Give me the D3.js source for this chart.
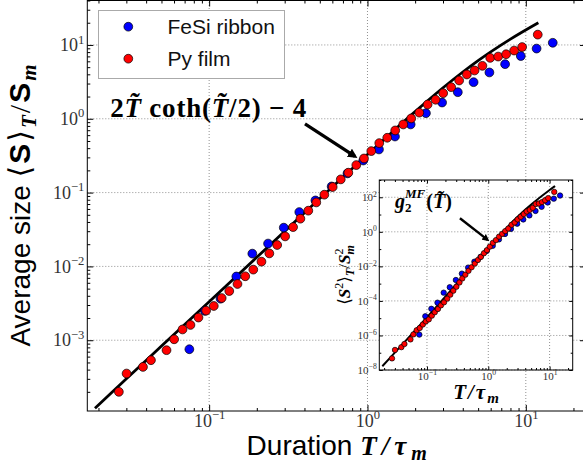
<!DOCTYPE html>
<html>
<head>
<meta charset="utf-8">
<script src="https://cdn.jsdelivr.net/npm/d3@7"></script>
<style>
  body { margin: 0; background: #fff; }
</style>
</head>
<body>
<div id="chart"></div>
<script>
// ---- data ----
const seriesNames = ['FeSi ribbon', 'Py film']
const seriesColors = ['#0000ff', '#ff0000']

// FeSi ribbon (blue)
const fesiT = [0.0750, 0.094, 0.118, 0.1485, 0.1874, 0.2356, 0.296, 0.371, 0.469, 0.594, 0.748, 0.941,
  1.182, 1.492, 1.874, 2.34, 2.96, 3.72, 4.68, 5.89, 7.40, 9.30, 11.7, 14.8]
const fesiS = [7.55e-4, 2.5e-3, 3.65e-3, 7.30e-3, 0.0149, 0.0204, 0.0335, 0.0545, 0.0783, 0.121, 0.182, 0.272,
  0.384, 0.575, 0.838, 1.19, 1.66, 2.29, 3.13, 4.24, 5.49, 7.08, 8.93, 10.7]
const fesiS2 = [1.12e-6, 1.29e-5, 3.5e-5, 7.9e-5, 3.0e-4, 6.2e-4, 1.62e-3, 3.8e-3, 8.5e-3, 0.0186, 0.0355, 0.0776,
  0.155, 0.363, 0.75, 1.48, 2.95, 5.2, 8.9, 16.2, 28, 50, 83, 126]

// Py film (red)
const pyT = [0.0269, 0.0301, 0.0382, 0.0429, 0.0538, 0.0601, 0.0679, 0.0762, 0.0856, 0.0957,
  0.107, 0.120, 0.134, 0.151, 0.169, 0.190, 0.214, 0.240, 0.269, 0.302,
  0.339, 0.377, 0.423, 0.475, 0.534, 0.603, 0.678, 0.757, 0.850, 0.951,
  1.057, 1.187, 1.333, 1.497, 1.682, 1.889, 2.123, 2.398, 2.693, 3.007,
  3.378, 3.794, 4.244, 4.748, 5.32, 5.96, 6.69, 7.51, 8.44, 9.48, 11.9]
const pyS = [2.0e-4, 3.54e-4, 4.35e-4, 5.36e-4, 7.33e-4, 1.03e-3, 1.40e-3, 1.61e-3, 2.03e-3, 2.52e-3,
  2.91e-3, 3.73e-3, 4.64e-3, 5.78e-3, 7.35e-3, 9.05e-3, 0.0116, 0.0150, 0.0195, 0.0255,
  0.0341, 0.0443, 0.0569, 0.0736, 0.0937, 0.119, 0.151, 0.186, 0.236, 0.290,
  0.365, 0.468, 0.553, 0.695, 0.838, 1.01, 1.21, 1.56, 1.81, 2.22,
  2.68, 3.30, 3.98, 4.51, 5.21, 6.68, 6.96, 7.48, 8.40, 9.37, 13.8]
const pyS2 = [4.7e-8, 1.45e-7, 2.1e-7, 3.2e-7, 5.9e-7, 1.15e-6, 2.0e-6, 2.7e-6, 4.3e-6, 6.5e-6,
  8.5e-6, 1.4e-5, 2.2e-5, 3.4e-5, 5.5e-5, 8.3e-5, 1.35e-4, 2.3e-4, 3.9e-4, 6.6e-4,
  1.17e-3, 2.0e-3, 3.3e-3, 5.5e-3, 8.9e-3, 0.0145, 0.0234, 0.0355, 0.0575, 0.087,
  0.138, 0.229, 0.331, 0.525, 0.76, 1.10, 1.55, 2.57, 3.47, 5.25,
  7.4, 10.7, 15.1, 18.6, 24.5, 40.7, 43.6, 52.5, 67.6, 89.1, 204]

// mean-field curves, sampled along the drawn lines
const theoryT = [0.019, 0.03, 0.05, 0.1, 0.2, 0.3, 0.5, 1, 1.5, 2, 3, 4, 5, 8, 12]
const theoryS = [1.2e-4, 3.0e-4, 8.33e-4, 3.33e-3, 0.0133, 0.030, 0.083, 0.328, 0.723, 1.25, 2.63, 4.30, 6.14, 12.0, 20.0]
const theory2T = [0.0187, 0.1, 0.316, 1, 1.585, 3.16, 10, 12.25]
const theory2S = [1.66e-8, 1.12e-5, 1.12e-3, 0.112, 0.708, 8.9, 263, 447]

// tick labels
const mainXTicks = [0.1, 1, 10]
const mainYTicks = [1e-3, 1e-2, 1e-1, 1, 10]
const insetXTicks = [0.1, 1, 10]
const insetYTicks = [1e-8, 1e-6, 1e-4, 1e-2, 1, 1e2]

// annotation anchors (data units)
const mainNote = { text: [0.0237, 1.05], tail: [0.403, 0.855], head: [0.834, 0.309] }
const insetNote = { text: [0.0302, 23], tail: [0.345, 6.1], head: [0.977, 0.34] }

// ---- drawing ----
const W = 583, H = 465
const serif = '"Liberation Serif", "DejaVu Serif", serif'
const sans = '"Liberation Sans", Arial, sans-serif'

const svg = d3.select('#chart').append('svg').attr('width', W).attr('height', H)
const defs = svg.append('defs')
defs.append('marker').attr('id', 'head')
  .attr('viewBox', '0 0 10 10').attr('refX', 7).attr('refY', 5)
  .attr('markerWidth', 3).attr('markerHeight', 3).attr('orient', 'auto')
  .append('path').attr('d', 'M0,0L10,5L0,10z').attr('fill', '#000')

function expLabel (sel, size) {
  sel.each(function (d) {
    const e = Math.round(Math.log10(d))
    const t = d3.select(this).text(null)
      .attr('font-family', serif).attr('font-size', size).attr('fill', '#333')
    t.append('tspan').text('10')
    t.append('tspan').attr('font-size', size * 0.7).attr('dy', -size * 0.42)
      .text(e < 0 ? '\u2212' + (-e) : String(e))
  })
}

function panel (cfg) {
  const { x, y, xTicks, yTicks, major, minor, fontSize, padX, padY, r, curveT, curveS, lw } = cfg
  const [x0, x1] = x.range()
  const [y0, y1] = y.range()
  const g = svg.append('g')

  if (cfg.fill) {
    g.append('rect').attr('x', x0).attr('y', y1).attr('width', x1 - x0).attr('height', y0 - y1).attr('fill', '#fff')
  }

  // grid
  const grid = g.append('g').attr('stroke', '#000').attr('stroke-opacity', 0.55)
    .attr('stroke-width', 0.8).attr('stroke-dasharray', '1,2')
  grid.selectAll('.gx').data(xTicks).join('line').attr('class', 'gx')
    .attr('x1', d => x(d)).attr('x2', d => x(d)).attr('y1', y0).attr('y2', y1)
  grid.selectAll('.gy').data(yTicks).join('line').attr('class', 'gy')
    .attr('y1', d => y(d)).attr('y2', d => y(d)).attr('x1', x0).attr('x2', x1)

  // theory curve
  g.append('path').datum(d3.zip(curveT, curveS))
    .attr('fill', 'none').attr('stroke', '#000').attr('stroke-width', lw)
    .attr('d', d3.line().x(d => x(d[0])).y(d => y(d[1])).curve(d3.curveMonotoneX))

  // scatter: blue first, red on top
  const sets = [d3.zip(fesiT, cfg.fesi), d3.zip(pyT, cfg.py)]
  sets.forEach((pts, i) => {
    g.append('g').selectAll('circle').data(pts).join('circle')
      .attr('cx', d => x(d[0])).attr('cy', d => y(d[1])).attr('r', r)
      .attr('fill', seriesColors[i]).attr('stroke', '#000').attr('stroke-width', 0.7)
  })

  // frame
  g.append('rect').attr('x', x0).attr('y', y1).attr('width', x1 - x0).attr('height', y0 - y1)
    .attr('fill', 'none').attr('stroke', '#000').attr('stroke-width', 1)

  const xMinor = x.ticks().filter(t => !xTicks.some(m => Math.abs(m / t - 1) < 1e-6))
  const yMinor = y.ticks().filter(t => !yTicks.some(m => Math.abs(m / t - 1) < 1e-6))

  const axes = [
    [d3.axisBottom, x, xTicks, xMinor, `translate(0,${y0})`, true],
    [d3.axisTop, x, xTicks, xMinor, `translate(0,${y1})`, false],
    [d3.axisLeft, y, yTicks, yMinor, `translate(${x0},0)`, true],
    [d3.axisRight, y, yTicks, yMinor, `translate(${x1},0)`, false]
  ]
  axes.forEach(([axis, s, maj, mnr, tr, labels], k) => {
    const pad = k < 2 ? padX : padY
    const a = g.append('g').attr('transform', tr)
      .call(axis(s).tickValues(maj).tickSizeInner(-major).tickSizeOuter(0).tickPadding(pad).tickFormat(''))
    a.select('.domain').remove()
    if (labels) a.selectAll('.tick text').call(expLabel, fontSize)
    else a.selectAll('.tick text').remove()
    const m = g.append('g').attr('transform', tr)
      .call(axis(s).tickValues(mnr).tickSizeInner(-minor).tickSizeOuter(0).tickFormat(''))
    m.select('.domain').remove()
    m.selectAll('.tick text').remove()
  })
  return g
}

function note (g, x, y, cfg, size, lw, build) {
  g.append('line')
    .attr('x1', x(cfg.tail[0])).attr('y1', y(cfg.tail[1]))
    .attr('x2', x(cfg.head[0])).attr('y2', y(cfg.head[1]))
    .attr('stroke', '#000').attr('stroke-width', lw).attr('marker-end', 'url(#head)')
  const t = g.append('text').attr('x', x(cfg.text[0])).attr('y', y(cfg.text[1]))
    .attr('font-family', serif).attr('font-size', size).attr('font-weight', 'bold')
  build(t, size)
}

function addSpans (t, parts) {
  parts.forEach(p => {
    const s = t.append('tspan').text(p.t)
    if (p.f) s.attr('font-family', p.f)
    if (p.w) s.attr('font-weight', p.w)
    if (p.i) s.attr('font-style', 'italic')
    if (p.fs) s.attr('font-size', p.fs)
    if (p.dy) s.attr('dy', p.dy)
    if (p.dx) s.attr('dx', p.dx)
    if (p.ls) s.attr('letter-spacing', p.ls)
  })
}

// main axes
const x = d3.scaleLog().domain([0.017, 24]).range([87.3, 586])
const y = d3.scaleLog().domain([1.1e-4, 40]).range([411, 0.5])
const main = panel({
  x, y, xTicks: mainXTicks, yTicks: mainYTicks, major: 6, minor: 3, fontSize: 18,
  padX: 3, padY: 3, r: 4.4, curveT: theoryT, curveS: theoryS, lw: 2.8, fesi: fesiS, py: pyS
})

note(main, x, y, mainNote, 27, 3.2, (t, s) => {
  t.attr('letter-spacing', 0.8)
  addSpans(t, [
    { t: '2' },
    { t: 'T\u0303', i: true },
    { t: ' coth(' },
    { t: 'T\u0303', i: true },
    { t: '/2) \u2212 4' }
  ])
})

// legend
const leg = svg.append('g')
leg.append('rect').attr('x', 98.5).attr('y', 10.5).attr('width', 186).attr('height', 68)
  .attr('fill', '#fff').attr('stroke', '#aaa').attr('stroke-width', 1)
seriesNames.forEach((name, i) => {
  const cy = 26.7 + i * 32
  leg.append('circle').attr('cx', 128.3).attr('cy', cy).attr('r', 4.4)
    .attr('fill', seriesColors[i]).attr('stroke', '#000').attr('stroke-width', 0.7)
  leg.append('text').attr('x', 167.5).attr('y', cy).attr('dy', '0.36em')
    .attr('font-family', sans).attr('font-size', 21).attr('fill', '#111').text(name)
})

// main axis labels
const xl = svg.append('text').attr('x', 336.7).attr('y', 455).attr('text-anchor', 'middle')
  .attr('font-size', 28).attr('fill', '#000')
addSpans(xl, [
  { t: 'Duration ', f: sans },
  { t: 'T', f: serif, w: 'bold', i: true, fs: 27, ls: 5 },
  { t: '/', f: serif, w: 'bold', i: true, fs: 27, ls: 5 },
  { t: '\u03c4', f: serif, w: 'bold', i: true, fs: 27, ls: 5 },
  { t: 'm', f: serif, w: 'bold', i: true, fs: 20, dy: 5 }
])

const yl = svg.append('text').attr('transform', 'translate(30,205.5) rotate(-90)')
  .attr('text-anchor', 'middle').attr('font-size', 28).attr('fill', '#000')
addSpans(yl, [
  { t: 'Average size ', f: sans },
  { t: '\u27e8', f: serif, fs: 30, ls: 2 },
  { t: 'S', f: sans, w: 'bold', fs: 30, ls: 2 },
  { t: '\u27e9', f: serif, fs: 30, ls: 2 },
  { t: 'T', f: serif, w: 'bold', i: true, fs: 21, dy: 6, ls: 2 },
  { t: '/', f: serif, fs: 30, dy: -6, ls: 2 },
  { t: 'S', f: sans, w: 'bold', fs: 30, ls: 2 },
  { t: 'm', f: serif, w: 'bold', i: true, fs: 21, dy: 6 }
])

// inset axes
const xi = d3.scaleLog().domain([0.0167, 23.8]).range([379.3, 572.7])
const yi = d3.scaleLog().domain([1e-8, 1e3]).range([370, 180])
const inset = panel({
  x: xi, y: yi, xTicks: insetXTicks, yTicks: insetYTicks, major: 3.5, minor: 2, fontSize: 11,
  padX: 2, padY: 2.5, r: 2.7, curveT: theory2T, curveS: theory2S, lw: 2, fesi: fesiS2, py: pyS2, fill: true
})

note(inset, xi, yi, insetNote, 20, 2.4, (t, s) => {
  addSpans(t, [
    { t: 'g', i: true },
    { t: '2', fs: 13, dy: 4 },
    { t: 'MF', i: true, fs: 13, dy: -14, dx: -6.5 },
    { t: '(', dy: 10, dx: 1 },
    { t: 'T\u0303', i: true },
    { t: ')' }
  ])
})

const xil = svg.append('text').attr('x', 476).attr('y', 399).attr('text-anchor', 'middle')
  .attr('font-family', serif).attr('font-size', 21).attr('font-weight', 'bold').attr('font-style', 'italic')
addSpans(xil, [
  { t: 'T/\u03c4', ls: 2 },
  { t: 'm', fs: 15, dy: 4 }
])

const yil = svg.append('text').attr('transform', 'translate(350,275) rotate(-90)')
  .attr('text-anchor', 'middle').attr('font-family', serif).attr('font-size', 17)
addSpans(yil, [
  { t: '\u27e8' },
  { t: 'S', w: 'bold', i: true },
  { t: '2', fs: 12, dy: -7 },
  { t: '\u27e9', dy: 7 },
  { t: 'T', w: 'bold', i: true, fs: 12, dy: 4 },
  { t: '/', dy: -4 },
  { t: 'S', w: 'bold', i: true },
  { t: '2', fs: 12, dy: -7 },
  { t: 'm', w: 'bold', i: true, fs: 12, dy: 11, dx: -6 }
])
</script>
</body>
</html>
